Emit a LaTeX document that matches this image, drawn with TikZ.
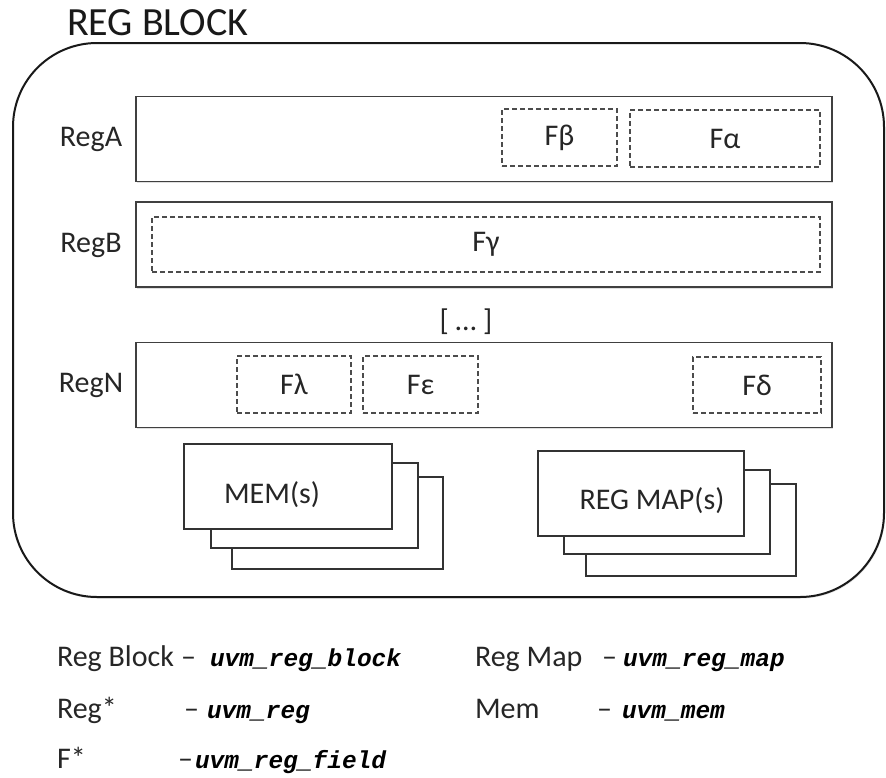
\documentclass[tikz,border=0pt]{standalone}
\usepackage{fontspec}
\setmainfont{Carlito}
\newfontfamily\codefont{Liberation Mono}
\usetikzlibrary{shadows}
\begin{document}
\begin{tikzpicture}[x=1pt,y=-1pt,
  every node/.style={inner sep=0pt, outer sep=0pt},
  lbl/.style={font=\fontsize{30}{36}\selectfont, text=black!85},
  regbox/.style={draw=black!75, line width=1.6pt, fill=white, minimum width=696pt, minimum height=85pt,
    drop shadow={shadow xshift=1.2pt, shadow yshift=-1.6pt, opacity=0.25}},
  fld/.style={lbl, draw=black!70, line width=1.4pt, dash pattern=on 5pt off 3pt, minimum height=57pt},
  card/.style={draw=black!80, line width=1.6pt, fill=white, anchor=north west},
  code/.style={font=\codefont\bfseries\itshape\fontsize{24.5}{30}\selectfont, anchor=base west},
  leg/.style={lbl, anchor=base west},
]
\useasboundingbox[fill=white] (0,0) rectangle (886,777);

% outer block
\node[draw=black!90, line width=2pt, rounded corners=84pt, minimum width=871pt, minimum height=554pt,
  drop shadow={shadow xshift=1pt, shadow yshift=-1.5pt, opacity=0.2}, fill=white] (block) at (448.5,320) {};
\node[anchor=base west, font=\fontsize{40}{48}\selectfont, text=black!90] (title) at (67,35) {REG BLOCK};

% registers
\node[regbox] (rega) at (484,139) {};
\node[regbox] (regb) at (484,244.5) {};
\node[regbox] (regn) at (484,385) {};

\node[lbl] (rega-l) at (91,139) {RegA};
\node[lbl] (regb-l) at (91,245) {RegB};
\node[lbl] (regn-l) at (91,385) {RegN};

% fields
\node[fld, minimum width=115pt] (fbeta) at (559.5,137.5) {Fβ};
\node[fld, minimum width=190pt] (falpha) at (725,138.5) {Fα};
\node[fld, minimum width=668pt, minimum height=55pt] (fgamma) at (486,244.5) {Fγ};
\node[fld, minimum width=114pt] (flambda) at (294,384.5) {Fλ};
\node[fld, minimum width=115pt] (feps) at (420.5,384.5) {Fε};
\node[fld, minimum width=128pt, minimum height=56pt] (fdelta) at (757,385) {Fδ};

\node[lbl] (dots) at (466,322) {[ … ]};

% memories
\node[card, minimum width=211pt, minimum height=92pt] (mem3) at (232,477) {};
\node[card, minimum width=207pt, minimum height=85pt] (mem2) at (211,463) {};
\node[card, minimum width=208pt, minimum height=85pt] (mem1) at (184,444) {};
\node[lbl] (memt) at (272,495) {MEM(s)};

% reg maps
\node[card, minimum width=210pt, minimum height=92pt] (map3) at (586,484) {};
\node[card, minimum width=206pt, minimum height=84pt] (map2) at (564,470) {};
\node[card, minimum width=206pt, minimum height=85pt] (map1) at (538,451) {};
\node[lbl] (mapt) at (652,501) {REG MAP(s)};

% legend
\node[leg] (l1a) at (57,666) {Reg Block};
\node[leg] (l1b) at (181,666) {–};
\node[code] (l1c) at (210,666) {uvm\_reg\_block};
\node[leg] (l2a) at (57,718) {Reg*};
\node[leg] (l2b) at (184,718) {–};
\node[code] (l2c) at (207,718) {uvm\_reg};
\node[leg] (l3a) at (57,768) {F*};
\node[leg] (l3b) at (178,768) {–};
\node[code] (l3c) at (195,768) {uvm\_reg\_field};
\node[leg] (l4a) at (475,666) {Reg Map};
\node[leg] (l4b) at (602,666) {–};
\node[code] (l4c) at (623,666) {uvm\_reg\_map};
\node[leg] (l5a) at (475,718) {Mem};
\node[leg] (l5b) at (597,718) {–};
\node[code] (l5c) at (622,718) {uvm\_mem};
\end{tikzpicture}
\end{document}
